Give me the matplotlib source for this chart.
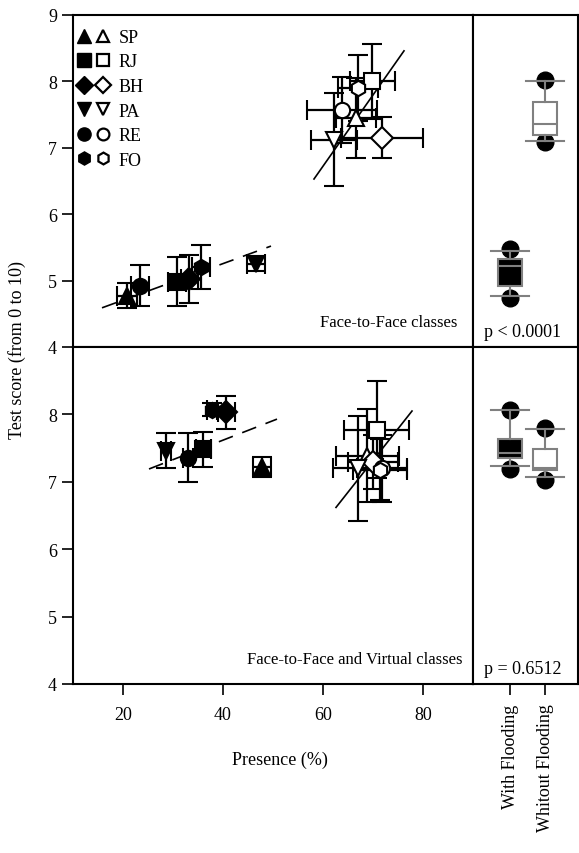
import matplotlib.pyplot as plt
from matplotlib.lines import Line2D
from matplotlib.legend_handler import HandlerTuple

plt.rcParams['font.family'] = ['Liberation Serif', 'DejaVu Serif']

sites = ["SP", "RJ", "BH", "PA", "RE", "FO"]
marks = ["^", "s", "D", "v", "o", "h"]

# top panel (Face-to-Face classes)
top_fx = [20.8, 30.8, 33.2, 46.6, 23.4, 35.6]
top_fy = [4.77, 4.98, 5.02, 5.25, 4.92, 5.20]
top_fxe = [2.0, 1.8, 1.7, 1.8, 1.8, 1.8]
top_fye = [0.19, 0.37, 0.36, 0.10, 0.31, 0.33]
top_ox = [66.5, 69.8, 71.8, 62.2, 63.8, 67.0]
top_oy = [7.45, 8.00, 7.15, 7.12, 7.57, 7.90]
top_oxe = [4.0, 4.5, 8.2, 4.6, 7.0, 4.0]
top_oye = [0.60, 0.56, 0.31, 0.70, 0.50, 0.50]

# bottom panel (Face-to-Face and Virtual classes)
bot_fx = [47.8, 36.0, 40.6, 28.6, 33.0, 37.8]
bot_fy = [7.22, 7.48, 8.03, 7.46, 7.36, 8.07]
bot_fxe = [1.8, 1.5, 1.7, 1.0, 1.0, 1.0]
bot_fye = [0.15, 0.26, 0.25, 0.26, 0.36, 0.10]
bot_ox = [68.8, 70.7, 70.0, 66.9, 71.8, 71.4]
bot_oy = [7.39, 7.77, 7.30, 7.20, 7.20, 7.18]
bot_oxe = [6.3, 6.5, 5.0, 5.0, 5.0, 5.4]
bot_oye = [0.69, 0.72, 0.40, 0.78, 0.50, 0.45]

# regression lines (end points)
top_dash_x, top_dash_y = [15.8, 49.6], [4.59, 5.52]
top_solid_x, top_solid_y = [58.2, 76.2], [6.53, 8.46]
bot_dash_x, bot_dash_y = [25.2, 50.8], [7.19, 7.93]
bot_solid_x, bot_solid_y = [62.6, 77.8], [6.62, 8.05]

# box plots: with / whitout flooding
groups = ["With Flooding", "Whitout Flooding"]
top_box = [
    dict(whislo=4.77, q1=4.92, med=5.22, q3=5.33, whishi=5.45, fliers=[4.74, 5.48]),
    dict(whislo=7.10, q1=7.19, med=7.36, q3=7.69, whishi=8.00, fliers=[7.08, 8.02]),
]
bot_box = [
    dict(whislo=7.24, q1=7.36, med=7.42, q3=7.63, whishi=8.07, fliers=[7.19, 8.07]),
    dict(whislo=7.07, q1=7.18, med=7.21, q3=7.48, whishi=7.78, fliers=[7.03, 7.80]),
]
box_fill = ["black", "white"]

fig = plt.figure(figsize=(5.79, 8.54), dpi=100)
W, H = 579, 854
ax1 = fig.add_axes([73 / W, 1 - 348 / H, 400 / W, 332 / H])
ax2 = fig.add_axes([73 / W, 1 - 685 / H, 400 / W, 337 / H])
bx1 = fig.add_axes([473 / W, 1 - 348 / H, 105 / W, 332 / H])
bx2 = fig.add_axes([473 / W, 1 - 685 / H, 105 / W, 337 / H])


def scatter_panel(ax, xs, ys, xe, ye, filled):
    for i in range(len(xs)):
        ax.errorbar(xs[i], ys[i], xerr=xe[i], yerr=ye[i], fmt=marks[i], ms=11,
                    mfc="black" if filled else "white", mec="black", mew=1.5,
                    ecolor="black", elinewidth=1.6, capsize=7, capthick=1.6, zorder=3)


scatter_panel(ax1, top_fx, top_fy, top_fxe, top_fye, True)
scatter_panel(ax1, top_ox, top_oy, top_oxe, top_oye, False)
ax1.plot(top_dash_x, top_dash_y, color="black", lw=1.2, dashes=(9, 6))
ax1.plot(top_solid_x, top_solid_y, color="black", lw=1.2)

scatter_panel(ax2, bot_fx, bot_fy, bot_fxe, bot_fye, True)
scatter_panel(ax2, bot_ox, bot_oy, bot_oxe, bot_oye, False)
ax2.plot(bot_dash_x, bot_dash_y, color="black", lw=1.2, dashes=(9, 6))
ax2.plot(bot_solid_x, bot_solid_y, color="black", lw=1.2)

for ax in (ax1, ax2):
    ax.set_xlim(10, 90)
    ax.set_ylim(4, 9)
    ax.tick_params(direction="out", length=8, width=1.2, labelsize=13)
    for s in ax.spines.values():
        s.set_linewidth(1.5)
ax1.set_yticks([4, 5, 6, 7, 8, 9])
ax1.set_xticks([])
ax2.set_yticks([4, 5, 6, 7, 8])
ax2.set_xticks([20, 40, 60, 80])
ax2.tick_params(axis="x", pad=8)

ax1.text(0.96, 0.05, "Face-to-Face classes", transform=ax1.transAxes,
         ha="right", va="bottom", fontsize=12)
ax2.text(0.975, 0.05, "Face-to-Face and Virtual classes", transform=ax2.transAxes,
         ha="right", va="bottom", fontsize=12)

# legend: filled and open marker per site
handles = []
for m in marks:
    f = Line2D([], [], marker=m, ls="none", ms=9.5, mfc="black", mec="black")
    o = Line2D([], [], marker=m, ls="none", ms=8.5, mfc="white", mec="black", mew=1.6)
    handles.append((f, o))
ax1.legend(handles, sites, handler_map={tuple: HandlerTuple(ndivide=None, pad=0.35)},
           loc="upper left", bbox_to_anchor=(-0.005, 0.98), frameon=False,
           fontsize=13, handlelength=1.7, handletextpad=0.55, labelspacing=0.42,
           borderaxespad=0)

for bx, stats, ptxt in ((bx1, top_box, "p < 0.0001"), (bx2, bot_box, "p = 0.6512")):
    bp = bx.bxp(stats, positions=[1, 2], widths=0.69, capwidths=1.09,
                patch_artist=True, showfliers=True,
                boxprops=dict(edgecolor="#808080", linewidth=1.5, zorder=4),
                medianprops=dict(color="#808080", linewidth=1.5, zorder=5),
                whiskerprops=dict(color="#808080", linewidth=1.5, zorder=4),
                capprops=dict(color="#808080", linewidth=1.5, zorder=4),
                flierprops=dict(marker="o", ms=12, mfc="black", mec="black"))
    for patch, c in zip(bp["boxes"], box_fill):
        patch.set_facecolor(c)
    for fl in bp["fliers"]:
        fl.set_zorder(2)
    bx.set_xlim(-0.06, 2.94)
    bx.set_ylim(4, 9)
    bx.set_yticks([])
    for s in bx.spines.values():
        s.set_linewidth(1.5)
    bx.text(0.1, 0.02, ptxt, transform=bx.transAxes, ha="left", va="bottom", fontsize=13)

bx1.set_xticks([])
bx2.set_xticks([1, 2])
bx2.set_xticklabels(groups, rotation=90, fontsize=13)
bx2.tick_params(axis="x", direction="out", length=8, width=1.2, pad=6)

fig.text(0.03, 0.59, "Test score (from 0 to 10)", rotation=90, ha="center",
         va="center", fontsize=13)
fig.text(0.484, 0.11, "Presence (%)", ha="center", va="center", fontsize=13)

fig.savefig("out.png", dpi=100)
